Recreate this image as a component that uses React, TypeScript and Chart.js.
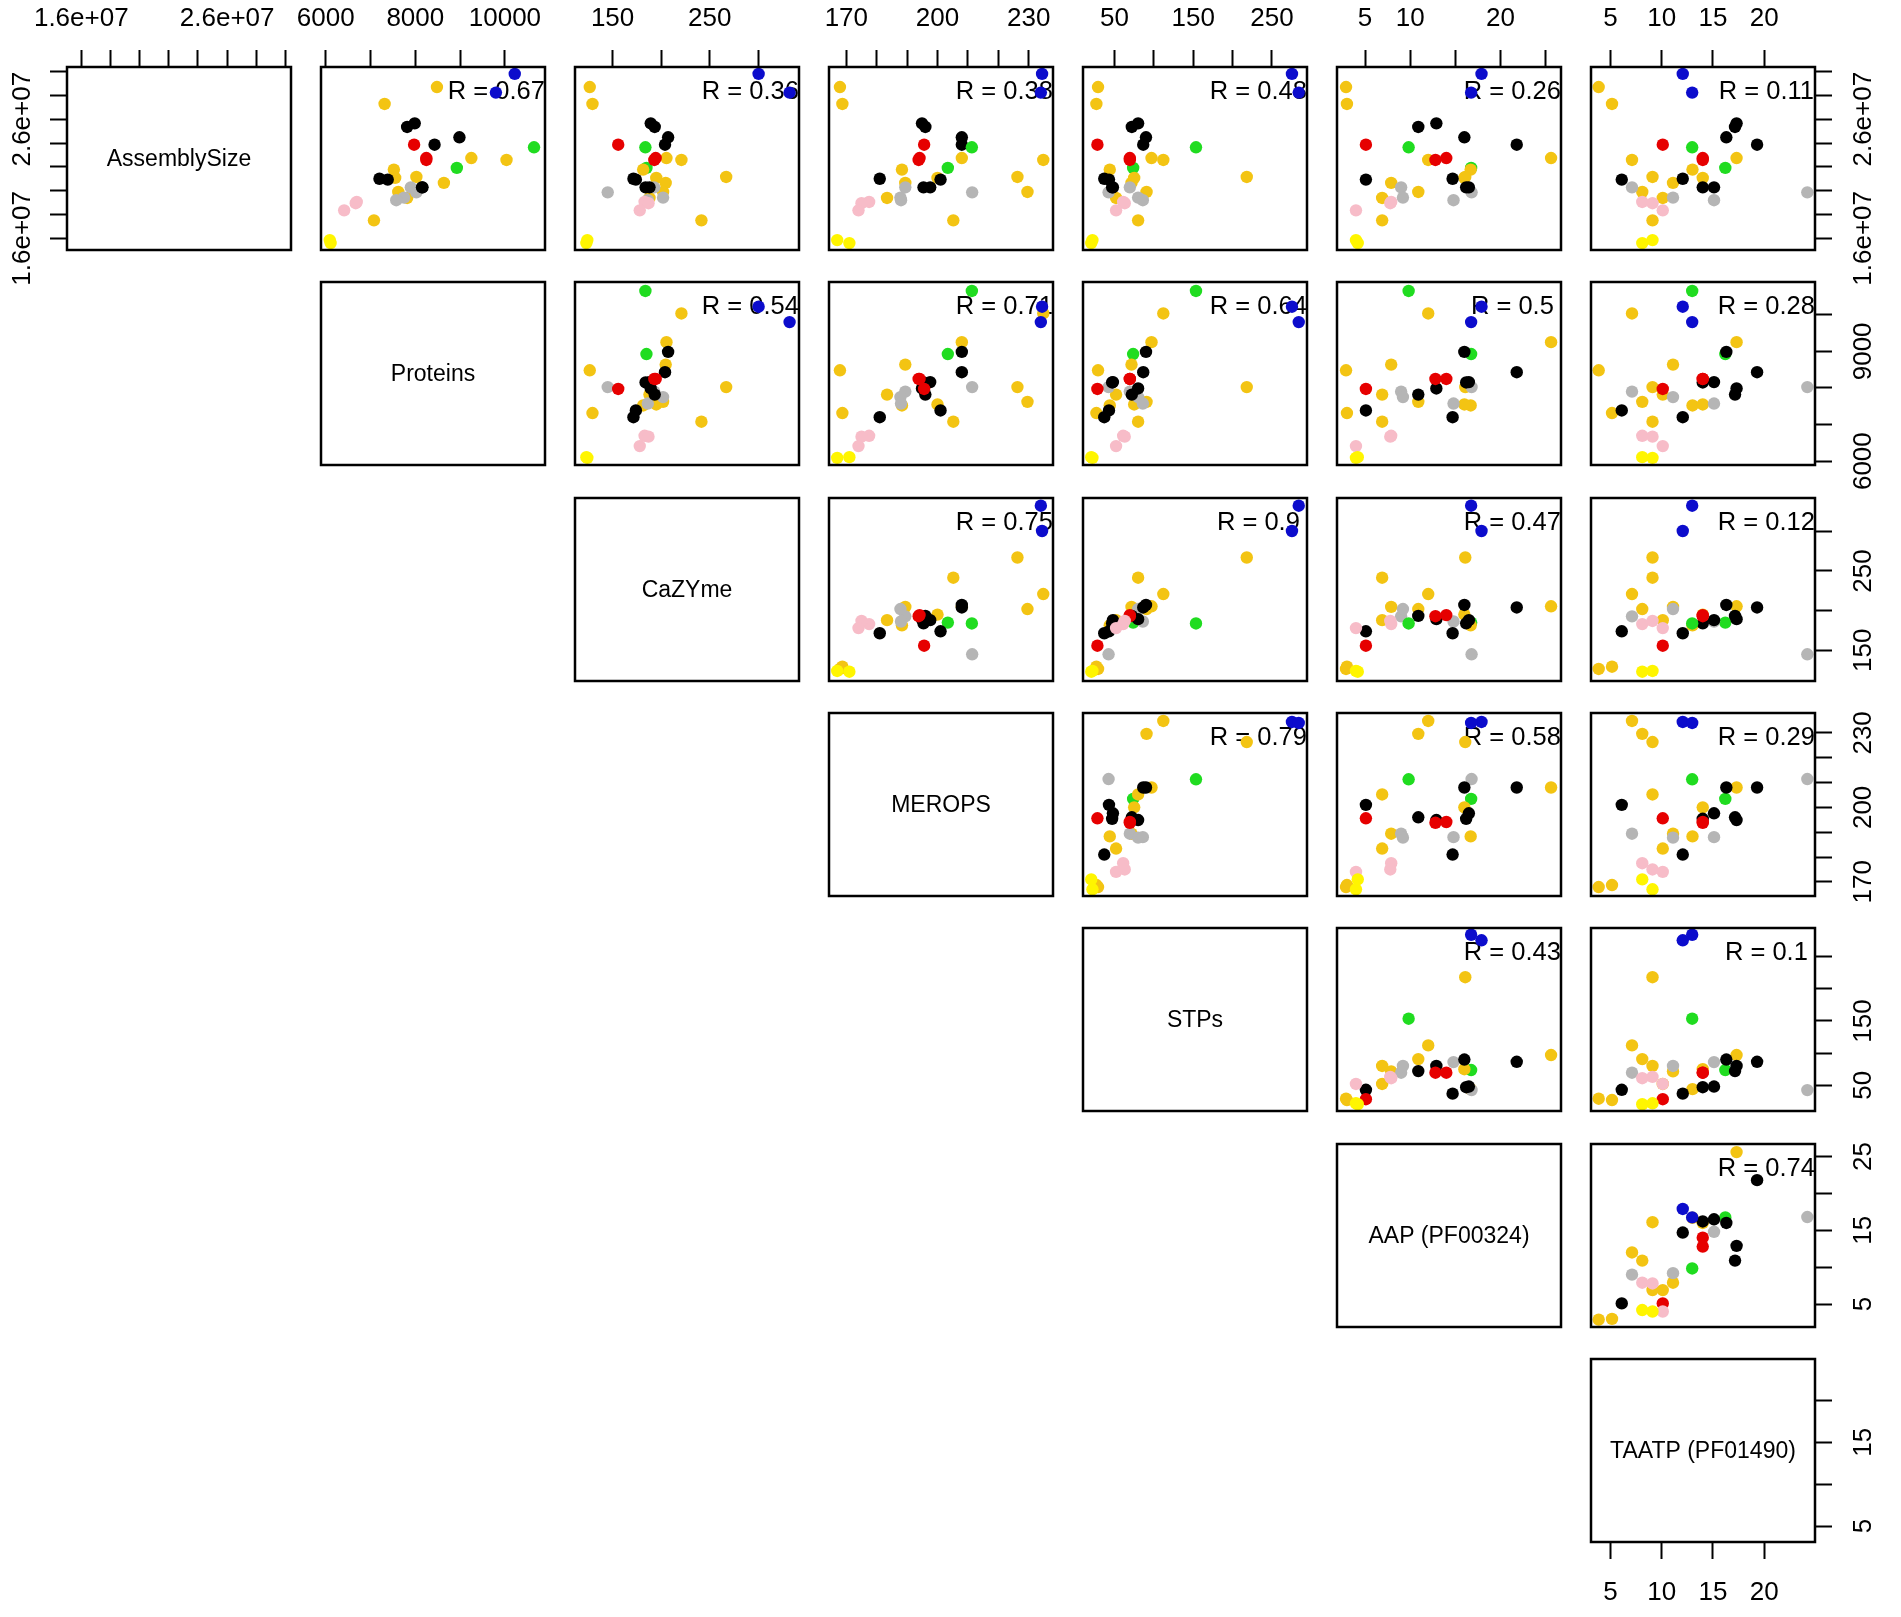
import React, { useEffect, useRef } from "react";
import { Chart, registerables } from "chart.js";

Chart.register(...registerables);

const FONT = '"Liberation Sans", Arial, Helvetica, sans-serif';

// ---------------- DATA ----------------
const variableNames = [
  "AssemblySize",
  "Proteins",
  "CaZYme",
  "MEROPS",
  "STPs",
  "AAP (PF00324)",
  "TAATP (PF01490)",
];

const groups = [
  "gold", "gold", "gold", "gold", "green", "gold", "gold", "gold", "gold", "gold", "gold", "gold",
  "gray", "gray", "gray", "gray",
  "black", "black", "black", "black", "black", "black", "black", "black",
  "red", "red", "red",
  "pink", "pink", "pink",
  "yellow", "yellow",
  "green",
  "blue", "blue",
];

const assemblySize = [
  2.870e7, 2.728e7, 2.274e7, 2.258e7, 2.191e7, 2.177e7, 2.115e7, 2.065e7, 1.939e7, 1.751e7, 2.107e7, 1.989e7,
  2.028e7, 1.986e7, 1.942e7, 1.920e7,
  2.565e7, 2.535e7, 2.448e7, 2.386e7, 2.093e7, 2.100e7, 2.028e7, 2.028e7,
  2.386e7, 2.274e7, 2.258e7,
  1.905e7, 1.895e7, 1.835e7,
  1.560e7, 1.585e7,
  2.364e7,
  2.980e7, 2.823e7,
];

const proteins = [
  8483, 7315, 9251, 10036, 8927, 7521, 8024, 8638, 7818, 7077, 7550, 7620,
  7900, 8023, 7750, 7575,
  7987, 7818, 8985, 8430, 7385, 7200, 8150, 8160,
  7973, 8246, 8246,
  6693, 6670, 6412,
  6110, 6090,
  10650,
  10220, 9799,
];

const cazyme = [
  126.5, 129.3, 205.5, 220.9, 184.9, 181.5, 267, 204.7, 188, 241.5, 195, 202,
  192.8, 145, 202, 186.3,
  189.3, 193.4, 207.2, 204, 174, 171.5, 184, 188,
  155.8, 194.4, 193,
  183, 187, 178,
  123, 124,
  183.8,
  300.4, 332.3,
];

const merops = [
  167.9, 168.7, 208, 234.8, 203.4, 188.3, 226.3, 189.4, 183.4, 205.2, 200, 229.6,
  189.4, 211.4, 187.8, 188,
  194.9, 196, 208, 208, 201, 181, 195.4, 197.6,
  195.6, 194.1, 193.8,
  177.5, 175, 174,
  171, 167,
  211.3,
  234.4, 234,
];

const stps = [
  29.1, 27, 97, 112, 73.7, 44, 218, 71.6, 52, 80, 75, 90.7,
  69.5, 42.5, 80, 86,
  80, 72, 90, 86.5, 43, 37, 47, 48,
  28.3, 69.5, 69.5,
  61, 63, 52,
  20.5, 22,
  153.5,
  275.4, 284,
];

const aap = [
  2.9, 3.0, 25.6, 12.0, 16.75, 16.7, 16.1, 7.9, 6.9, 6.9, 16, 10.9,
  9.0, 16.8, 9.2, 14.8,
  12.9, 10.9, 16.0, 21.8, 5.1, 14.7, 16.2, 16.5,
  5.1, 14.0, 12.8,
  7.9, 7.8, 4.0,
  4.2, 4.0,
  9.83,
  17.9, 16.75,
];

const taatp = [
  3.85, 5.15, 17.3, 7.1, 16.2, 13.0, 9.1, 11.1, 10.1, 9.1, 14, 8.1,
  7.1, 24.2, 11.1, 15.1,
  17.3, 17.15, 16.3, 19.3, 6.1, 12.05, 14, 15.1,
  10.1, 14.0, 14.0,
  8.1, 9.1, 10.1,
  8.1, 9.1,
  12.97,
  12.05, 12.97,
];

const variables = [assemblySize, proteins, cazyme, merops, stps, aap, taatp];

const groupColors: Record<string, string> = {
  gold: "#F3C413",
  yellow: "#FFF500",
  pink: "#F7BCC8",
  gray: "#B5B5B5",
  black: "#000000",
  red: "#E60000",
  green: "#20DC20",
  blue: "#0C0CCC",
};

const axisMin = [1.502e7, 5895, 111.3, 164.3, 10, 1.9, 3.1];
const axisMax = [3.038e7, 10895, 342, 238, 294.5, 26.7, 24.95];

const tickValues = [
  [1.6e7, 1.8e7, 2.0e7, 2.2e7, 2.4e7, 2.6e7, 2.8e7, 3.0e7],
  [6000, 7000, 8000, 9000, 10000],
  [150, 200, 250, 300],
  [170, 180, 190, 200, 210, 220, 230],
  [50, 100, 150, 200, 250],
  [5, 10, 15, 20, 25],
  [5, 10, 15, 20],
];

const topLabelValues = [
  [1.6e7, 2.6e7],
  [6000, 8000, 10000],
  [150, 250],
  [170, 200, 230],
  [50, 150, 250],
  [5, 10, 20],
  [5, 10, 15, 20],
];

const sideLabelValues = [
  [1.6e7, 2.6e7],
  [6000, 9000],
  [150, 250],
  [170, 200, 230],
  [50, 150],
  [5, 15, 25],
  [5, 15],
];

const correlationLabels = [
  ["", "0.67", "0.36", "0.38", "0.48", "0.26", "0.11"],
  ["", "", "0.54", "0.71", "0.64", "0.5", "0.28"],
  ["", "", "", "0.75", "0.9", "0.47", "0.12"],
  ["", "", "", "", "0.79", "0.58", "0.29"],
  ["", "", "", "", "", "0.43", "0.1"],
  ["", "", "", "", "", "", "0.74"],
  ["", "", "", "", "", "", ""],
];

// ---------------- LAYOUT ----------------
const N = 7;
const PAGE_W = 1901;
const PAGE_H = 1617;
const COL0 = 67.3;
const COL_STEP = 253.9;
const ROW0 = 66.8;
const ROW_STEP = 215.35;
const PANEL_W = 224;
const PANEL_H = 183;
const MARGIN = 40;

function fmt(v: number): string {
  if (Math.abs(v) >= 1e6) {
    return v.toExponential(1).replace(/e\+(\d)$/, "e+0$1");
  }
  return String(v);
}

function Panel({ row, col }: { row: number; col: number }) {
  const ref = useRef<HTMLCanvasElement>(null);
  const L = Math.round(COL0 + COL_STEP * col);
  const T = Math.round(ROW0 + ROW_STEP * row);
  const hasTop = row === 0;
  const hasBottom = row === N - 1;
  const hasLeft = col === 0;
  const hasRight = col === N - 1;
  const hasX = hasTop || hasBottom;
  const hasY = hasLeft || hasRight;
  const padL = hasLeft ? L : MARGIN;
  const padT = hasTop ? T : MARGIN;
  const padR = hasRight ? PAGE_W - (L + PANEL_W) : MARGIN;
  const padB = hasBottom ? PAGE_H - (T + PANEL_H) : MARGIN;
  const cw = PANEL_W + padL + padR;
  const ch = PANEL_H + padT + padB;

  useEffect(() => {
    if (!ref.current) return;
    const xVar = col;
    const yVar = row;
    const isUpper = col > row;
    const points = isUpper
      ? variables[xVar].map((v, k) => ({ x: v, y: variables[yVar][k] }))
      : [];
    const colors = groups.map((g) => groupColors[g]);

    const deco = {
      id: "panelDeco",
      beforeDatasetsDraw(chart: any) {
        const { ctx, chartArea: a } = chart;
        ctx.save();
        ctx.fillStyle = "#000";
        if (isUpper) {
          ctx.beginPath();
          ctx.rect(a.left, a.top, a.right - a.left, a.bottom - a.top);
          ctx.clip();
          ctx.font = `25.5px ${FONT}`;
          ctx.textAlign = "center";
          ctx.textBaseline = "alphabetic";
          ctx.fillText(
            "R = " + correlationLabels[row][col],
            a.left + (a.right - a.left) * 0.783,
            a.top + 31.5
          );
        } else if (row === col) {
          ctx.font = `23px ${FONT}`;
          ctx.textAlign = "center";
          ctx.textBaseline = "middle";
          ctx.fillText(variableNames[row], (a.left + a.right) / 2, (a.top + a.bottom) / 2 + 1);
        }
        ctx.restore();
      },
      afterDatasetsDraw(chart: any) {
        const { ctx, chartArea: a } = chart;
        ctx.save();
        ctx.strokeStyle = "#000";
        ctx.lineWidth = 2.5;
        ctx.strokeRect(a.left, a.top, a.right - a.left, a.bottom - a.top);
        ctx.restore();
      },
      afterDraw(chart: any) {
        if (!hasY) return;
        const { ctx } = chart;
        const s = chart.scales.y;
        ctx.save();
        ctx.fillStyle = "#000";
        ctx.font = `26px ${FONT}`;
        ctx.textAlign = "center";
        ctx.textBaseline = "alphabetic";
        for (const v of sideLabelValues[row]) {
          const py = s.getPixelForValue(v);
          const px = hasRight ? s.left + 56 : s.right - 37.5;
          ctx.save();
          ctx.translate(px, py);
          ctx.rotate(-Math.PI / 2);
          ctx.fillText(fmt(v), 0, 0);
          ctx.restore();
        }
        ctx.restore();
      },
    };

    const tickFont = { family: FONT, size: 26, lineHeight: 1.2 };

    const chart = new Chart(ref.current, {
      type: "scatter",
      data: {
        datasets: [
          {
            data: points,
            pointRadius: 6.2,
            pointHoverRadius: 6.2,
            pointBackgroundColor: colors,
            pointBorderColor: colors,
            pointBorderWidth: 0,
            showLine: false,
          },
        ],
      },
      options: {
        responsive: false,
        maintainAspectRatio: false,
        animation: false,
        devicePixelRatio: 1,
        events: [],
        layout: {
          padding: {
            left: hasLeft ? 0 : MARGIN,
            right: hasRight ? 0 : MARGIN,
            top: hasTop ? 0 : MARGIN,
            bottom: hasBottom ? 0 : MARGIN,
          },
        },
        plugins: {
          legend: { display: false },
          tooltip: { enabled: false },
          title: { display: false },
        },
        scales: {
          x: {
            type: "linear",
            position: hasBottom ? "bottom" : "top",
            display: hasX,
            min: axisMin[xVar],
            max: axisMax[xVar],
            afterBuildTicks: (s: any) => {
              s.ticks = tickValues[xVar].map((v) => ({ value: v }));
            },
            afterFit: (s: any) => {
              s.height = hasX ? (hasTop ? padT : padB) : 0;
              s.paddingLeft = 0;
              s.paddingRight = 0;
              s.paddingTop = 0;
              s.paddingBottom = 0;
            },
            grid: {
              drawOnChartArea: false,
              drawTicks: true,
              tickLength: 17,
              tickWidth: 2,
              tickColor: "#000",
            },
            border: { display: false },
            ticks: {
              display: hasX,
              autoSkip: false,
              maxRotation: 0,
              minRotation: 0,
              padding: hasTop ? 16 : 18,
              color: "#000",
              font: tickFont,
              callback: (v: any) =>
                topLabelValues[xVar].includes(Number(v)) ? fmt(Number(v)) : "",
            },
          },
          y: {
            type: "linear",
            position: hasLeft ? "left" : "right",
            display: hasY,
            min: axisMin[yVar],
            max: axisMax[yVar],
            afterBuildTicks: (s: any) => {
              s.ticks = tickValues[yVar].map((v) => ({ value: v }));
            },
            afterFit: (s: any) => {
              s.width = hasY ? (hasLeft ? padL : padR) : 0;
              s.paddingTop = 0;
              s.paddingBottom = 0;
              s.paddingLeft = 0;
              s.paddingRight = 0;
            },
            grid: {
              drawOnChartArea: false,
              drawTicks: true,
              tickLength: 17,
              tickWidth: 2,
              tickColor: "#000",
            },
            border: { display: false },
            ticks: { display: false, autoSkip: false },
          },
        },
      } as any,
      plugins: [deco],
    } as any);

    return () => chart.destroy();
  }, []);

  return (
    <canvas
      ref={ref}
      width={cw}
      height={ch}
      style={{
        position: "absolute",
        left: L - padL,
        top: T - padT,
        width: cw,
        height: ch,
      }}
    />
  );
}

export default function App() {
  const panels: JSX.Element[] = [];
  for (let r = 0; r < N; r++) {
    for (let c = r; c < N; c++) {
      panels.push(<Panel key={`${r}-${c}`} row={r} col={c} />);
    }
  }
  return (
    <div
      style={{
        position: "absolute",
        left: 0,
        top: 0,
        width: PAGE_W,
        height: PAGE_H,
        background: "#ffffff",
        overflow: "hidden",
      }}
    >
      {panels}
    </div>
  );
}
